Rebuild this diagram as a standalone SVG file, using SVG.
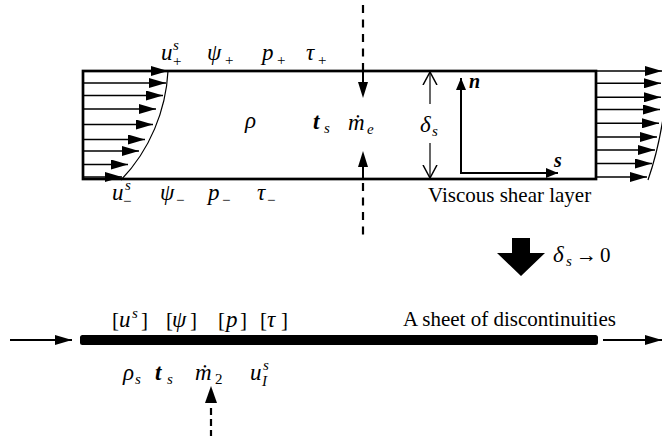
<svg xmlns="http://www.w3.org/2000/svg" width="662" height="436" viewBox="0 0 662 436">
<style>
text{font-family:"Liberation Serif","Times New Roman",serif;fill:#000}
.m{font-size:23px;font-style:italic}
.b{font-weight:bold}
.sm{font-size:15px}
.up{font-style:normal}
.t{font-size:21px}
.ax{font-size:20px;font-style:italic;font-weight:bold}
.prof{stroke:#000;stroke-width:1.4;fill:none}
.border{stroke:#000;stroke-width:2.7;fill:none}
.dash{stroke:#000;stroke-width:2.2;stroke-dasharray:8 6.5;fill:none}
.dash2{stroke:#000;stroke-width:2.2;stroke-dasharray:7 4;fill:none}
.solid{stroke:#000;stroke-width:2;fill:none}
.thin{stroke:#000;stroke-width:1.2;fill:none}
</style>
<defs>
<marker id="ah" viewBox="0 0 17 10" markerWidth="17" markerHeight="10" refX="17" refY="5" orient="auto" markerUnits="userSpaceOnUse">
<path d="M0,0 L17,5 L0,10 z" fill="#000"/>
</marker>
<marker id="ahs" viewBox="0 0 12 10" markerWidth="12" markerHeight="10" refX="12" refY="5" orient="auto" markerUnits="userSpaceOnUse">
<path d="M0,0 L12,5 L0,10 z" fill="#000"/>
</marker>
<marker id="open" viewBox="0 0 14 16" markerWidth="14" markerHeight="16" refX="13" refY="8" orient="auto" markerUnits="userSpaceOnUse">
<path d="M0,1 L13,8 L0,15" fill="none" stroke="#000" stroke-width="1.5"/>
</marker>
</defs>

<g id="shear-layer">
<rect class="border" x="83" y="71" width="513" height="108"/>
<g id="left-profile">
<line class="prof" x1="83" y1="71" x2="168" y2="71" marker-end="url(#ah)"/>
<line class="prof" x1="83" y1="83" x2="166" y2="83" marker-end="url(#ah)"/>
<line class="prof" x1="83" y1="95.5" x2="163" y2="95.5" marker-end="url(#ah)"/>
<line class="prof" x1="83" y1="109" x2="156" y2="109" marker-end="url(#ah)"/>
<line class="prof" x1="83" y1="124.5" x2="153" y2="124.5" marker-end="url(#ah)"/>
<line class="prof" x1="83" y1="139.5" x2="145" y2="139.5" marker-end="url(#ah)"/>
<line class="prof" x1="83" y1="151" x2="139" y2="151" marker-end="url(#ah)"/>
<line class="prof" x1="83" y1="164.5" x2="128" y2="164.5" marker-end="url(#ah)"/>
<line class="prof" x1="83" y1="177" x2="122" y2="177" marker-end="url(#ah)"/>
<path class="thin" d="M168,71 C166,110 150,150 121,180"/>
</g>
<g id="right-profile">
<line class="prof" x1="596" y1="71" x2="662" y2="71" marker-end="url(#ah)"/>
<line class="prof" x1="596" y1="83.3" x2="661" y2="83.3" marker-end="url(#ah)"/>
<line class="prof" x1="596" y1="97.3" x2="661" y2="97.3" marker-end="url(#ah)"/>
<line class="prof" x1="596" y1="109.5" x2="660" y2="109.5" marker-end="url(#ah)"/>
<line class="prof" x1="596" y1="123.3" x2="659" y2="123.3" marker-end="url(#ah)"/>
<line class="prof" x1="596" y1="137" x2="657" y2="137" marker-end="url(#ah)"/>
<line class="prof" x1="596" y1="150" x2="655" y2="150" marker-end="url(#ah)"/>
<line class="prof" x1="596" y1="163.5" x2="652" y2="163.5" marker-end="url(#ah)"/>
<line class="prof" x1="596" y1="177" x2="647" y2="177" marker-end="url(#ah)"/>
<path class="thin" d="M664,112 C660,140 655,160 648,180"/>
</g>
<g id="thickness">
<line class="thin" x1="430" y1="104" x2="430" y2="72" stroke-width="1.5" marker-end="url(#open)"/>
<line class="thin" x1="430" y1="143" x2="430" y2="178" stroke-width="1.5" marker-end="url(#open)"/>
<text class="m" x="420" y="132">δ<tspan class="sm" x="432" y="136">s</tspan></text>
</g>
<g id="axes">
<line class="solid" x1="461" y1="173" x2="461" y2="78" marker-end="url(#ahs)"/>
<line class="solid" x1="460" y1="173" x2="558" y2="173" marker-end="url(#ahs)"/>
<text class="ax" x="469" y="88">n</text>
<text class="ax" x="554" y="167">s</text>
</g>
<g id="top-labels">
<text class="m" x="161" y="60">u<tspan class="sm" x="173" y="50">s</tspan><tspan class="sm up" x="173" y="66">+</tspan></text>
<text class="m" x="207" y="60">ψ<tspan class="sm up" x="225" y="65">+</tspan></text>
<text class="m" x="262" y="60">p<tspan class="sm up" x="277" y="65">+</tspan></text>
<text class="m" x="306" y="60">τ<tspan class="sm up" x="318" y="65">+</tspan></text>
</g>
<g id="bottom-labels">
<text class="m" x="112" y="200">u<tspan class="sm" x="125" y="190">s</tspan><tspan class="sm up" x="123" y="206">−</tspan></text>
<text class="m" x="160" y="200">ψ<tspan class="sm up" x="176" y="205">−</tspan></text>
<text class="m" x="208" y="200">p<tspan class="sm up" x="222" y="205">−</tspan></text>
<text class="m" x="257" y="200">τ<tspan class="sm up" x="267" y="205">−</tspan></text>
</g>
<g id="inner-labels">
<text class="m" x="245" y="128">ρ</text>
<text class="m b" x="313" y="129">t<tspan class="sm" style="font-weight:normal" x="324" y="133">s</tspan></text>
<text class="m" x="348" y="130">ṁ<tspan class="sm" x="367" y="134">e</tspan></text>
</g>
<text class="t" x="428" y="202">Viscous shear layer</text>
</g>

<g id="limit">
<polygon points="512,238 530,238 530,253 545,253 521,276 497,253 512,253" fill="#000"/>
<text class="m" x="553" y="262">δ<tspan class="sm" x="566" y="266">s</tspan></text>
<text class="t" x="576" y="262">→</text>
<text class="t" x="600" y="262">0</text>
</g>

<g id="sheet">
<rect x="80" y="335" width="518" height="10" rx="2.5" fill="#000"/>
<text class="t" x="403" y="326">A sheet of discontinuities</text>
<text class="t" x="112" y="327">[<tspan class="m" x="119">u</tspan><tspan class="sm m" x="132" y="318">s</tspan><tspan x="141" y="327">]</tspan></text>
<text class="t" x="166" y="327">[<tspan class="m" x="172">ψ</tspan><tspan x="190">]</tspan></text>
<text class="t" x="218" y="327">[<tspan class="m" x="226">p</tspan><tspan x="240">]</tspan></text>
<text class="t" x="260" y="327">[<tspan class="m" x="267">τ</tspan><tspan x="281">]</tspan></text>
<text class="m" x="123" y="380">ρ<tspan class="sm" x="135" y="384">s</tspan></text>
<text class="m b" x="155" y="380">t<tspan class="sm" style="font-weight:normal" x="167" y="384">s</tspan></text>
<text class="m" x="195" y="380">ṁ<tspan class="sm up" x="215" y="384">2</tspan></text>
<text class="m" x="250" y="380">u<tspan class="sm" x="263" y="370">s</tspan><tspan class="sm" x="262" y="386">I</tspan></text>
</g>

<g id="connectors">
<line class="dash" x1="363" y1="5" x2="363" y2="71"/>
<line class="solid" x1="363" y1="71" x2="363" y2="83"/>
<polygon points="358,82 368,82 363,98" fill="#000"/>
<polygon points="358,167 368,167 363,151" fill="#000"/>
<line class="solid" x1="363" y1="166" x2="363" y2="179"/>
<line class="dash" x1="363" y1="183" x2="363" y2="235"/>
<polygon points="205,403 217,403 211,386" fill="#000"/>
<line class="dash2" x1="211" y1="408" x2="211" y2="437"/>
<line class="solid" x1="10" y1="340" x2="72" y2="340" marker-end="url(#ah)"/>
<line class="solid" x1="603" y1="340" x2="662" y2="340" marker-end="url(#ah)"/>
</g>
</svg>
